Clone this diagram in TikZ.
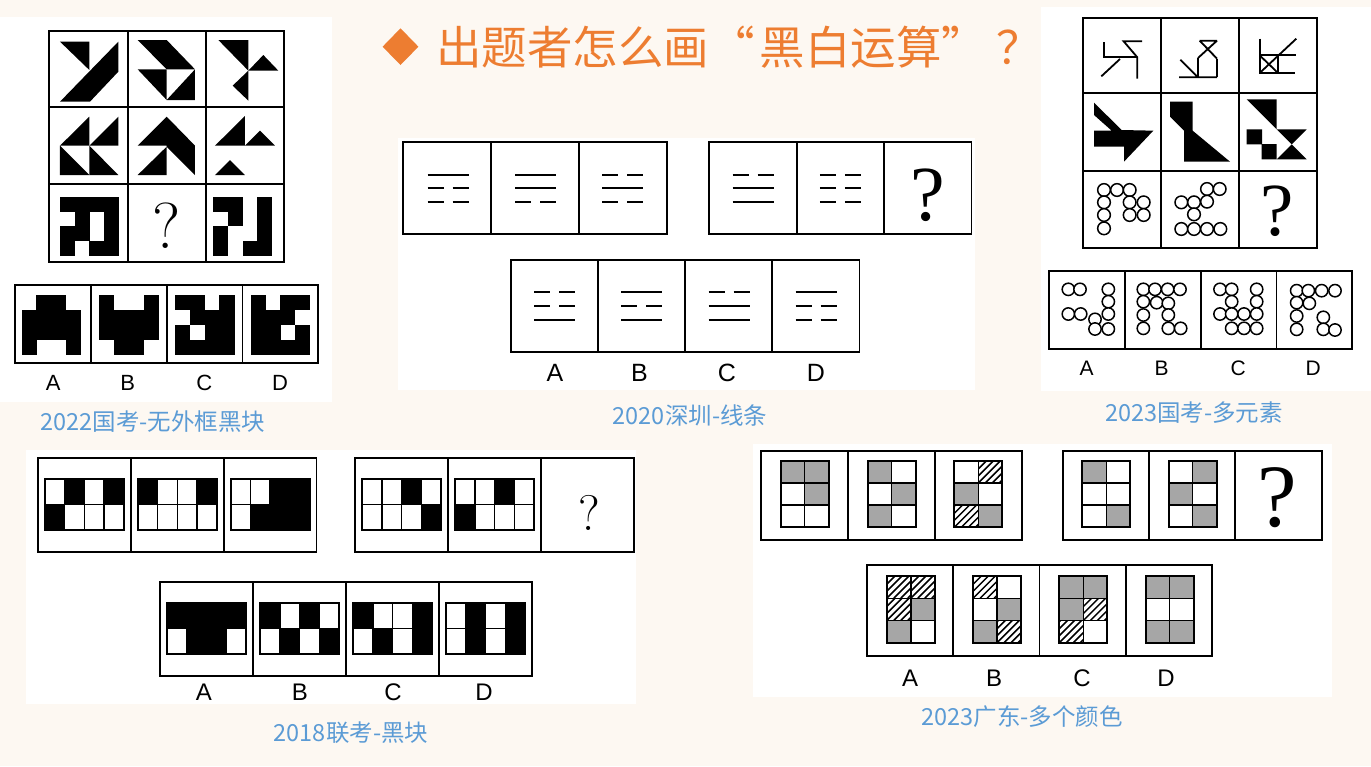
\documentclass[tikz,border=0pt]{standalone}
\usepackage{fontspec}
\newfontfamily\cjk{Noto Sans CJK SC}
\newfontfamily\cjktitle[RawFeature=+fwid]{Noto Sans CJK SC}
\newfontfamily\labfont{Liberation Sans}
\newfontfamily\qfont{Liberation Serif}
\definecolor{bgcream}{RGB}{253,248,242}
\definecolor{titleorange}{RGB}{237,125,49}
\definecolor{capblue}{RGB}{91,155,213}
\definecolor{cellgray}{RGB}{166,166,166}

\tikzset{
  frame/.style={draw=black,line width=1.8pt},
  cellline/.style={draw=black,line width=1.4pt},
  gridframe/.style={draw=black,line width=2pt},
  bar/.style={line width=2pt},
  stroke/.style={line width=1.8pt},
  ring/.style={draw=black,fill=white,line width=1.5pt},
  hatchline/.style={line width=1.5pt},
  title/.style={text=titleorange,font=\cjktitle\fontsize{45.5}{48}\selectfont,inner sep=0},
  caption/.style={text=capblue,font=\cjk\fontsize{23.5}{26}\selectfont,inner sep=0},
  optlabel/.style={font=\labfont\fontsize{#1}{#1}\selectfont,inner sep=0},
  qmark/.style={font=\fontsize{#1}{#1}\selectfont,inner sep=0},
  qmarkt/.style={font=\qfont\fontsize{#1}{#1}\selectfont,inner sep=0}
}

\newcommand\framerow[5]{%
  \draw[frame] (#1,#2) rectangle ++(#5*#3,#4);
  \foreach \k in {1,...,#5} \draw[frame] (#1+\k*#3,#2) -- ++(0,#4);}
\newcommand\pixgrid[4]{%
  \foreach \r [count=\j from 0] in {#4} {
    \foreach \b [count=\i from 0] in \r {
      \ifnum\b=1 \fill (#1+\i*#3,#2+\j*#3) rectangle ++(#3+1,#3+1);\fi}}}
\newcommand\barline[3]{%
  \if s#3\draw[bar] (#1-20.5,#2) -- (#1+20.5,#2);%
  \else\draw[bar] (#1-20.5,#2) -- (#1-4.5,#2) (#1+4.5,#2) -- (#1+20.5,#2);\fi}
\newcommand\bwgrid[4]{%
  \foreach \b [count=\i from 0] in {#3} {\ifnum\b=1 \fill (#1+\i*19.8,#2) rectangle ++(19.8,25.3);\fi}
  \foreach \b [count=\i from 0] in {#4} {\ifnum\b=1 \fill (#1+\i*19.8,#2+25.3) rectangle ++(19.8,25.3);\fi}
  \foreach \i in {1,2,3} \draw[cellline] (#1+\i*19.8,#2) -- ++(0,50.6);
  \draw[cellline] (#1,#2+25.3) -- ++(79.2,0);
  \draw[gridframe] (#1,#2) rectangle ++(79.2,50.6);}
\newcommand\hatch[2]{%
  \begin{scope}
    \clip (#1,#2) rectangle ++(24,22.2);
    \foreach \s in {-21,-14,...,28} \draw[hatchline] (#1+\s,#2+22.2) -- ++(22.2,-22.2);
  \end{scope}}
\newcommand\colgrid[3]{%
  \foreach \ty [count=\k from 0] in {#3} {
    \pgfmathtruncatemacro\ci{mod(\k,2)}
    \pgfmathtruncatemacro\ri{\k/2}
    \if G\ty \fill[cellgray] (#1+\ci*24,#2+\ri*22.2) rectangle ++(24,22.2);\fi
    \if H\ty \hatch{#1+\ci*24}{#2+\ri*22.2}\fi}
  \draw[cellline] (#1+24,#2) -- ++(0,66.6) (#1,#2+22.2) -- ++(48,0) (#1,#2+44.4) -- ++(48,0);
  \draw[gridframe] (#1,#2) rectangle ++(48,66.6);}

\begin{document}
\begin{tikzpicture}[x=1pt,y=-1pt]
\useasboundingbox (0,0) rectangle (1371,766);
\fill[bgcream] (0,0) rectangle (1371,766);

\fill[white] (0,17) rectangle (332,402);
\fill[white] (398,138) rectangle (975,390);
\fill[white] (1041,7) rectangle (1371,391);
\fill[white] (26,450) rectangle (636,704);
\fill[white] (753,444) rectangle (1332,697);

\fill[titleorange] (382.6,46.7) -- (400.5,28.3) -- (418.4,46.7) -- (400.5,65) -- cycle;
\node[title,anchor=west] (title) at (436,47.5) {出题者怎么画“\hspace{5pt}黑白运算”\hspace{9pt}？};

% 2022
\draw[frame] (49.3,30.7) rectangle (284,262.3);
\draw[frame] (127.7,30.7) -- (127.7,262.3) (205.7,30.7) -- (205.7,262.3)
  (49.3,106.7) -- (284,106.7) (49.3,184.3) -- (284,184.3);
\begin{scope}[scale=1/3]
\fill (180,125) -- (268,125) -- (268,210) -- cycle;
\fill (180,305) -- (355,125) -- (355,215) -- (270,305) -- cycle;
\fill (413,120) -- (500,120) -- (585,208) -- (500,208) -- cycle;
\fill (413,208) -- (500,208) -- (500,300) -- cycle;
\fill (585,208) -- (585,300) -- (500,300) -- cycle;
\fill (655,120) -- (745,120) -- (745,212) -- cycle;
\fill (745,212) -- (790,165) -- (835,212) -- cycle;
\fill (745,212) -- (698,257) -- (745,302) -- cycle;
\fill (180,437) -- (268,350) -- (268,437) -- cycle;
\fill (268,437) -- (355,350) -- (355,437) -- cycle;
\fill (180,437) -- (180,525) -- (268,525) -- cycle;
\fill (268,437) -- (268,525) -- (355,525) -- cycle;
\fill (413,437) -- (500,350) -- (585,437) -- (585,525) -- (500,440) -- (500,437) -- cycle;
\fill (413,525) -- (500,440) -- (500,525) -- cycle;
\fill (645,437) -- (735,348) -- (735,437) -- cycle;
\fill (735,437) -- (780,392) -- (825,437) -- cycle;
\fill (645,525) -- (690,480) -- (735,525) -- cycle;
\pixgrid{180}{590}{44}{{1,1,1,1},{0,1,0,1},{1,1,0,1},{1,0,1,1}}
\pixgrid{640}{590}{44}{{1,1,0,1},{0,1,0,1},{1,0,0,1},{1,0,1,1}}
\node[qmark=65] (qa) at (500,678) {?};
\end{scope}
\framerow{15}{285}{75.8}{78.3}{4}
\begin{scope}[shift={(0,270)},scale=1/3]
\pixgrid{65}{75}{44.5}{{0,1,1,0},{1,1,1,1},{1,1,1,1},{1,0,0,1}}
\pixgrid{298}{75}{44.5}{{1,0,0,1},{1,1,1,1},{1,1,1,1},{0,1,1,0}}
\pixgrid{525}{75}{44.5}{{1,1,0,1},{0,1,1,1},{1,0,1,1},{1,1,1,1}}
\pixgrid{752}{75}{44.5}{{1,0,1,1},{1,1,1,0},{1,1,0,1},{1,1,1,1}}
\end{scope}
\foreach \l/\x in {A/53.3,B/127.7,C/204.3,D/280}
  \node[optlabel=22] (pa\l) at (\x,383) {\l};
\node[caption] (capa) at (153,422) {2022国考-无外框黑块};

% 2020
\framerow{403.2}{142.3}{87.8}{92}{3}
\framerow{709.2}{142.3}{87.4}{92}{3}
\framerow{510.7}{260}{87.2}{91.7}{4}
\foreach \cx/\a/\b/\c in {448/s/d/d,535.7/s/s/d,622.6/d/s/d,753/d/s/s,840.3/d/d/d}
  {\barline{\cx}{175}{\a}\barline{\cx}{188.3}{\b}\barline{\cx}{201.7}{\c}}
\foreach \cx/\a/\b/\c in {554.5/d/d/s,641.9/s/d/s,729/d/s/s,816/s/d/d}
  {\barline{\cx}{291.5}{\a}\barline{\cx}{305.5}{\b}\barline{\cx}{319.5}{\c}}
\node[qmarkt=78] (qb) at (927.7,195) {?};
\foreach \l/\x in {A/555,B/639.4,C/727,D/816}
  \node[optlabel=25] (pb\l) at (\x,373) {\l};
\node[caption] (capb) at (690,416) {2020深圳-线条};

% 2023 guokao
\draw[frame] (1082.7,18.3) rectangle (1317.3,248.3);
\draw[frame] (1161,18.3) -- (1161,248.3) (1239,18.3) -- (1239,248.3)
  (1082.7,92.7) -- (1317.3,92.7) (1082.7,170.7) -- (1317.3,170.7);
\begin{scope}[shift={(1040,0)},scale=1/3]
\draw[stroke] (191,126) -- (191,172) -- (292,172);
\draw[stroke] (184,229) -- (240,177);
\draw[stroke] (306,124) -- (251,124) -- (292,172) -- (292,236);
\draw[stroke] (479,122) -- (531,122) (479,122) -- (531,176) (531,122) -- (474,174);
\draw[stroke] (474,174) -- (474,232) (531,176) -- (531,232);
\draw[stroke] (417,232) -- (531,232) (421,179) -- (474,232);
\draw[stroke] (659,116) -- (659,219) (657,219) -- (764,219) (659,166) -- (767,166);
\draw[stroke] (714,166) -- (714,219) (659,219) -- (769,116) (659,166) -- (714,219);
\fill (162,308) -- (245,390) -- (340,392) -- (252,485) -- (252,440) -- (162,440)
  -- (162,392) -- (215,392) -- (162,345) -- cycle;
\fill (390,305) -- (458,305) -- (458,392) -- (570,485) -- (432,485) -- (432,392) -- (390,350) -- cycle;
\fill (620,298) -- (710,298) -- (710,388) -- cycle;
\fill (620,388) rectangle (666,433) (665,432) rectangle (710,478);
\fill (710,388) -- (800,388) -- (755,433) -- cycle;
\fill (710,478) -- (800,478) -- (755,433) -- cycle;
\foreach \x/\y in {192/570,231/570,269/570,192/607,192/645,192/685,269/607,311/607,269/645,311/645}
  \draw[ring] (\x,\y) circle (19);
\foreach \x/\y in {501/567,539/567,424/607,462/607,501/605,462/643,424/687,462/687,501/687,541/687}
  \draw[ring] (\x,\y) circle (19);
\node[qmarkt=75] (qc) at (710,635) {?};
\end{scope}
\framerow{1049}{271}{75.8}{78.3}{4}
\begin{scope}[shift={(1040,260)},scale=1/3]
\foreach \x/\y in {85/88,120/88,205/88,205/125,85/162,122/162,165/178,205/162,165/207,205/207}
  \draw[ring] (\x,\y) circle (18.5);
\foreach \x/\y in {310/88,345/88,383/88,420/88,310/125,350/128,385/130,310/165,385/165,310/205,385/205,422/205}
  \draw[ring] (\x,\y) circle (18.5);
\foreach \x/\y in {540/88,575/88,650/88,575/125,650/125,540/162,575/162,612/162,650/162,575/205,612/205,650/205}
  \draw[ring] (\x,\y) circle (18.5);
\foreach \x/\y in {770/92,805/92,845/92,885/92,770/128,808/130,770/168,850/172,770/208,850/208,885/210}
  \draw[ring] (\x,\y) circle (18.5);
\end{scope}
\foreach \l/\x in {A/1086.7,B/1161.7,C/1238.3,D/1313.3}
  \node[optlabel=21] (pc\l) at (\x,368) {\l};
\node[caption] (capc) at (1194,413) {2023国考-多元素};

% 2018
\framerow{37.8}{458.3}{92.9}{93.4}{3}
\framerow{355.2}{458.3}{92.9}{93.4}{3}
\framerow{160.3}{581.7}{92.9}{94.3}{4}
\bwgrid{44.7}{479.3}{0,1,0,1}{1,0,0,0}
\bwgrid{137.6}{479.3}{1,0,0,1}{0,0,0,0}
\bwgrid{230.5}{479.3}{0,0,1,1}{0,1,1,1}
\bwgrid{362.1}{479.3}{0,0,1,0}{0,0,0,1}
\bwgrid{455}{479.3}{0,0,1,0}{1,0,0,0}
\node[qmark=50] (qd) at (589,513) {?};
\bwgrid{167.2}{603.3}{1,1,1,1}{0,1,1,0}
\bwgrid{260.1}{603.3}{1,0,1,0}{0,1,0,1}
\bwgrid{353}{603.3}{1,0,0,1}{0,1,0,1}
\bwgrid{445.9}{603.3}{0,1,0,1}{0,1,0,1}
\foreach \l/\x in {A/204,B/300,C/393,D/484}
  \node[optlabel=24] (pd\l) at (\x,692) {\l};
\node[caption] (capd) at (351,733) {2018联考-黑块};

% 2023 guangdong
\framerow{761.2}{450.7}{86.8}{89.3}{3}
\framerow{1062.7}{450.7}{86.3}{89.3}{3}
\framerow{866.8}{565}{86.3}{91}{4}
\colgrid{780.7}{460.7}{G,G,W,G,W,W}
\colgrid{867.5}{460.7}{G,W,W,G,G,W}
\colgrid{954.3}{460.7}{W,H,G,W,H,G}
\colgrid{1082.2}{460.7}{G,W,W,W,W,G}
\colgrid{1168.5}{460.7}{W,G,G,W,W,G}
\node[qmarkt=89] (qe) at (1277,498) {?};
\colgrid{886.8}{576}{H,H,H,G,G,W}
\colgrid{973.1}{576}{H,W,W,G,G,H}
\colgrid{1059.4}{576}{G,G,G,H,H,W}
\colgrid{1145.7}{576}{G,G,W,W,G,G}
\foreach \l/\x in {A/910,B/994,C/1082,D/1166}
  \node[optlabel=24] (pe\l) at (\x,678) {\l};
\node[caption] (cape) at (1022,717) {2023广东-多个颜色};

\end{tikzpicture}
\end{document}
